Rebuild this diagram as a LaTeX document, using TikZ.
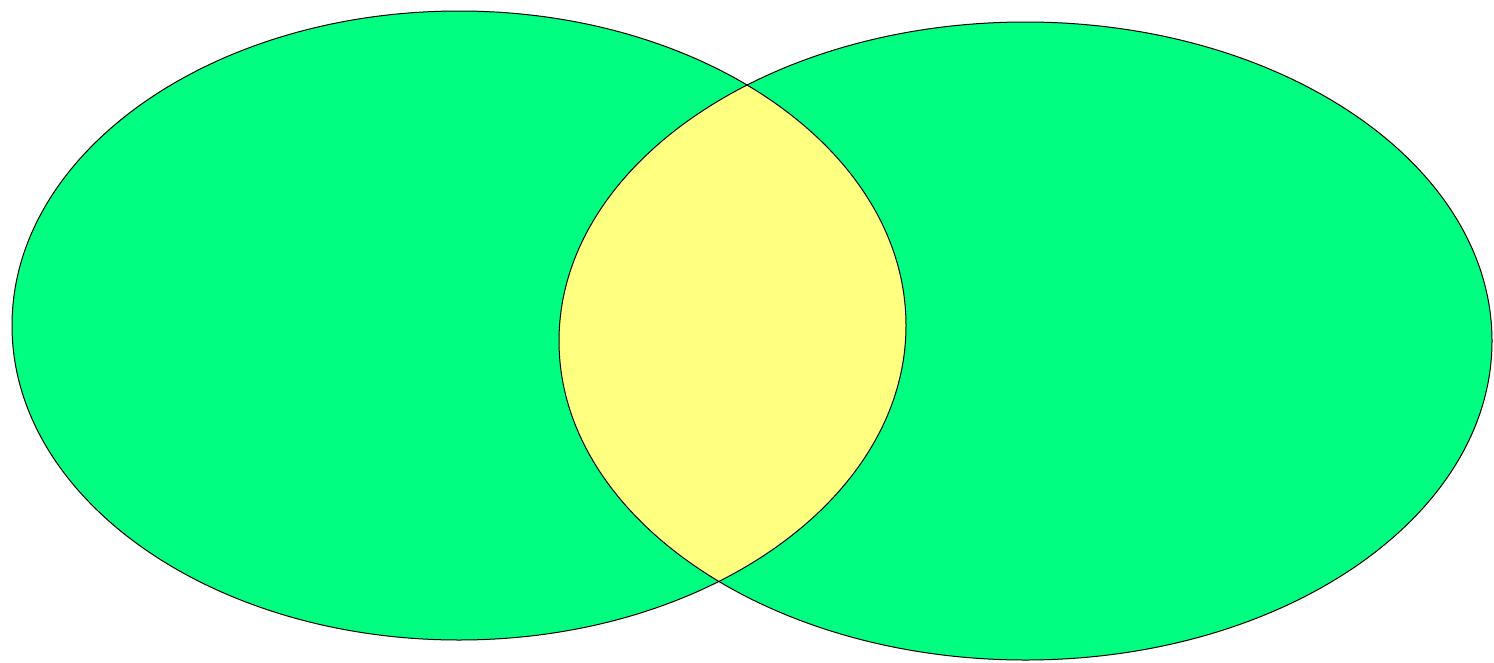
\documentclass[tikz,border=0pt]{standalone}
\definecolor{vgreen}{RGB}{0,255,128}
\definecolor{vyellow}{RGB}{255,255,128}
\tikzset{outline/.style={draw=black, line width=1pt}}
\begin{document}
\begin{tikzpicture}[x=1pt,y=-1pt]
\useasboundingbox (0,0) rectangle (1494,662);
\fill[white] (0,0) rectangle (1494,662);
\fill[vgreen] (459,325.5) ellipse [x radius=447, y radius=314.5];
\fill[vgreen] (1025.5,341) ellipse [x radius=466.5, y radius=319];
\begin{scope}
\clip (459,325.5) ellipse [x radius=447, y radius=314.5];
\fill[vyellow] (1025.5,341) ellipse [x radius=466.5, y radius=319];
\end{scope}
\draw[outline] (459,325.5) ellipse [x radius=447, y radius=314.5];
\draw[outline] (1025.5,341) ellipse [x radius=466.5, y radius=319];
\end{tikzpicture}
\end{document}
